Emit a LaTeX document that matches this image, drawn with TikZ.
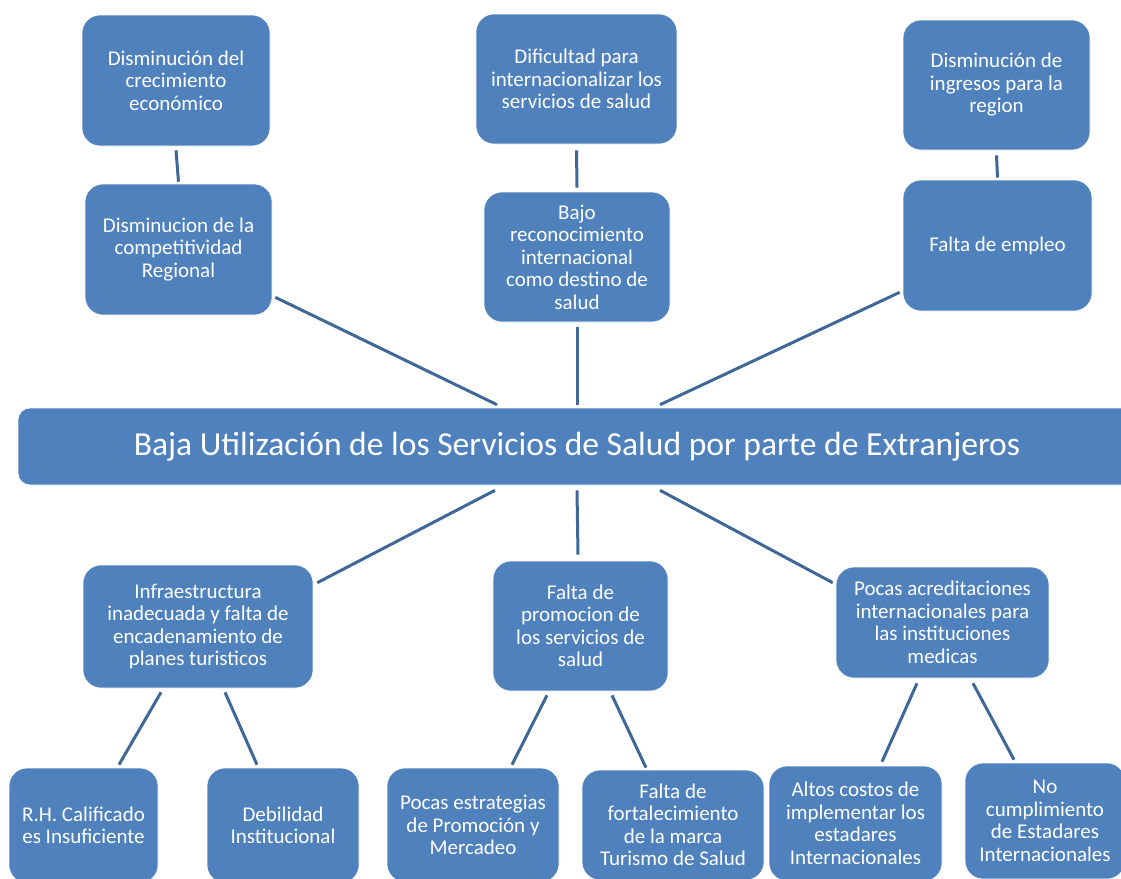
\documentclass[tikz,border=0pt]{standalone}
\usepackage{fontspec}
\setmainfont{Carlito}
\usetikzlibrary{positioning}
\definecolor{boxblue}{HTML}{4F81BD}
\definecolor{linkblue}{HTML}{3F6797}

\begin{document}
\begin{tikzpicture}[x=1pt, y=-1pt,
	box/.style={rounded corners=18pt, fill=boxblue, draw=white, line width=0.6pt, text=white, align=center, inner sep=0pt, font=\fontsize{21}{22.5}\selectfont},
	link/.style={draw=linkblue, line width=3pt}]
	\clip (0, 0) rectangle (1121, 878);
	\useasboundingbox (0, 0) rectangle (1121, 878);
	%top row nodes
	\node[box, minimum width=188, minimum height=131] (crecimiento) at (176, 80.5) {Disminución del\\crecimiento\\económico};
	\node[box, minimum width=201, minimum height=130] (dificultad) at (576.5, 79) {Dificultad para\\internacionalizar los\\servicios de salud};
	\node[box, minimum width=187, minimum height=130] (ingresos) at (996.5, 85) {Disminución de\\ingresos para la\\region};
	%second row nodes
	\node[box, minimum width=187, minimum height=131] (competitividad) at (178.5, 249.5) {Disminucion de la\\competitividad\\Regional};
	\node[box, minimum width=186, minimum height=130] (reconocimiento) at (577, 257) {Bajo\\reconocimiento\\internacional\\como destino de\\salud};
	\node[box, minimum width=189, minimum height=131] (empleo) at (997.5, 245.5) {Falta de empleo};
	%central problem
	\node[box, rounded corners=12pt, minimum width=1118, minimum height=77, font=\fontsize{33.6}{40}\selectfont] (problema) at (577, 446.5) {Baja Utilización de los Servicios de Salud por parte de Extranjeros};
	%causes
	\node[box, minimum width=230, minimum height=123] (infra) at (198, 626.5) {Infraestructura\\inadecuada y falta de\\encadenamiento de\\planes turisticos};
	\node[box, minimum width=175, minimum height=130] (promocion) at (580.5, 626) {Falta de\\promocion de\\los servicios de\\salud};
	\node[box, minimum width=213, minimum height=111] (acreditaciones) at (942.5, 622.5) {Pocas acreditaciones\\internacionales para\\las instituciones\\medicas};
	%bottom row nodes
	\node[box, minimum width=149, minimum height=115] (rrhh) at (83.5, 825.5) {R.H. Calificado\\es Insuficiente};
	\node[box, minimum width=152, minimum height=115] (debilidad) at (283, 825.5) {Debilidad\\Institucional};
	\node[box, minimum width=172, minimum height=114] (estrategias) at (473, 825) {Pocas estrategias\\de Promoción y\\Mercadeo};
	\node[box, minimum width=182, minimum height=110] (marca) at (673, 825) {Falta de\\fortalecimiento\\de la marca\\Turismo de Salud};
	\node[box, minimum width=173, minimum height=115] (costos) at (855.5, 823.5) {Altos costos de\\implementar los\\estadares\\Internacionales};
	\node[box, minimum width=160, minimum height=116] (cumplimiento) at (1045, 821) {No\\cumplimiento\\de Estadares\\Internacionales};
	%effect links
	\draw[link] ([yshift=-4pt]crecimiento.south) -- ([yshift=2pt]competitividad.north);
	\draw[link] ([yshift=-6pt]dificultad.south) -- ([yshift=4pt]reconocimiento.north);
	\draw[link] ([yshift=-5pt]ingresos.south) -- ([yshift=2pt]empleo.north);
	\draw[link] ([xshift=-80pt, yshift=3pt]problema.north) -- ([xshift=3pt, yshift=18pt]competitividad.south east);
	\draw[link] ([yshift=3pt]problema.north) -- ([yshift=-5pt]reconocimiento.south);
	\draw[link] ([xshift=83pt, yshift=3pt]problema.north) -- ([xshift=-3pt, yshift=19pt]empleo.south west);
	%cause links
	\draw[link] ([xshift=-82pt, yshift=-5pt]problema.south) -- ([xshift=4pt, yshift=-18pt]infra.north east);
	\draw[link] ([yshift=-5pt]problema.south) -- ([xshift=-2.5pt, yshift=6pt]promocion.north);
	\draw[link] ([xshift=83pt, yshift=-5pt]problema.south) -- ([xshift=-3pt, yshift=-16pt]acreditaciones.north west);
	\draw[link] ([xshift=-37pt, yshift=-4pt]infra.south) -- ([xshift=35.5pt, yshift=3pt]rrhh.north);
	\draw[link] ([xshift=27pt, yshift=-4pt]infra.south) -- ([xshift=-26pt, yshift=3pt]debilidad.north);
	\draw[link] ([xshift=-33.5pt, yshift=-4pt]promocion.south) -- ([xshift=39pt, yshift=3pt]estrategias.north);
	\draw[link] ([xshift=31.5pt, yshift=-4pt]promocion.south) -- ([xshift=-27pt, yshift=2pt]marca.north);
	\draw[link] ([xshift=-25.5pt, yshift=-5pt]acreditaciones.south) -- ([xshift=26.5pt, yshift=4pt]costos.north);
	\draw[link] ([xshift=30.5pt, yshift=-5pt]acreditaciones.south) -- ([xshift=-31pt, yshift=3pt]cumplimiento.north);
\end{tikzpicture}
\end{document}
